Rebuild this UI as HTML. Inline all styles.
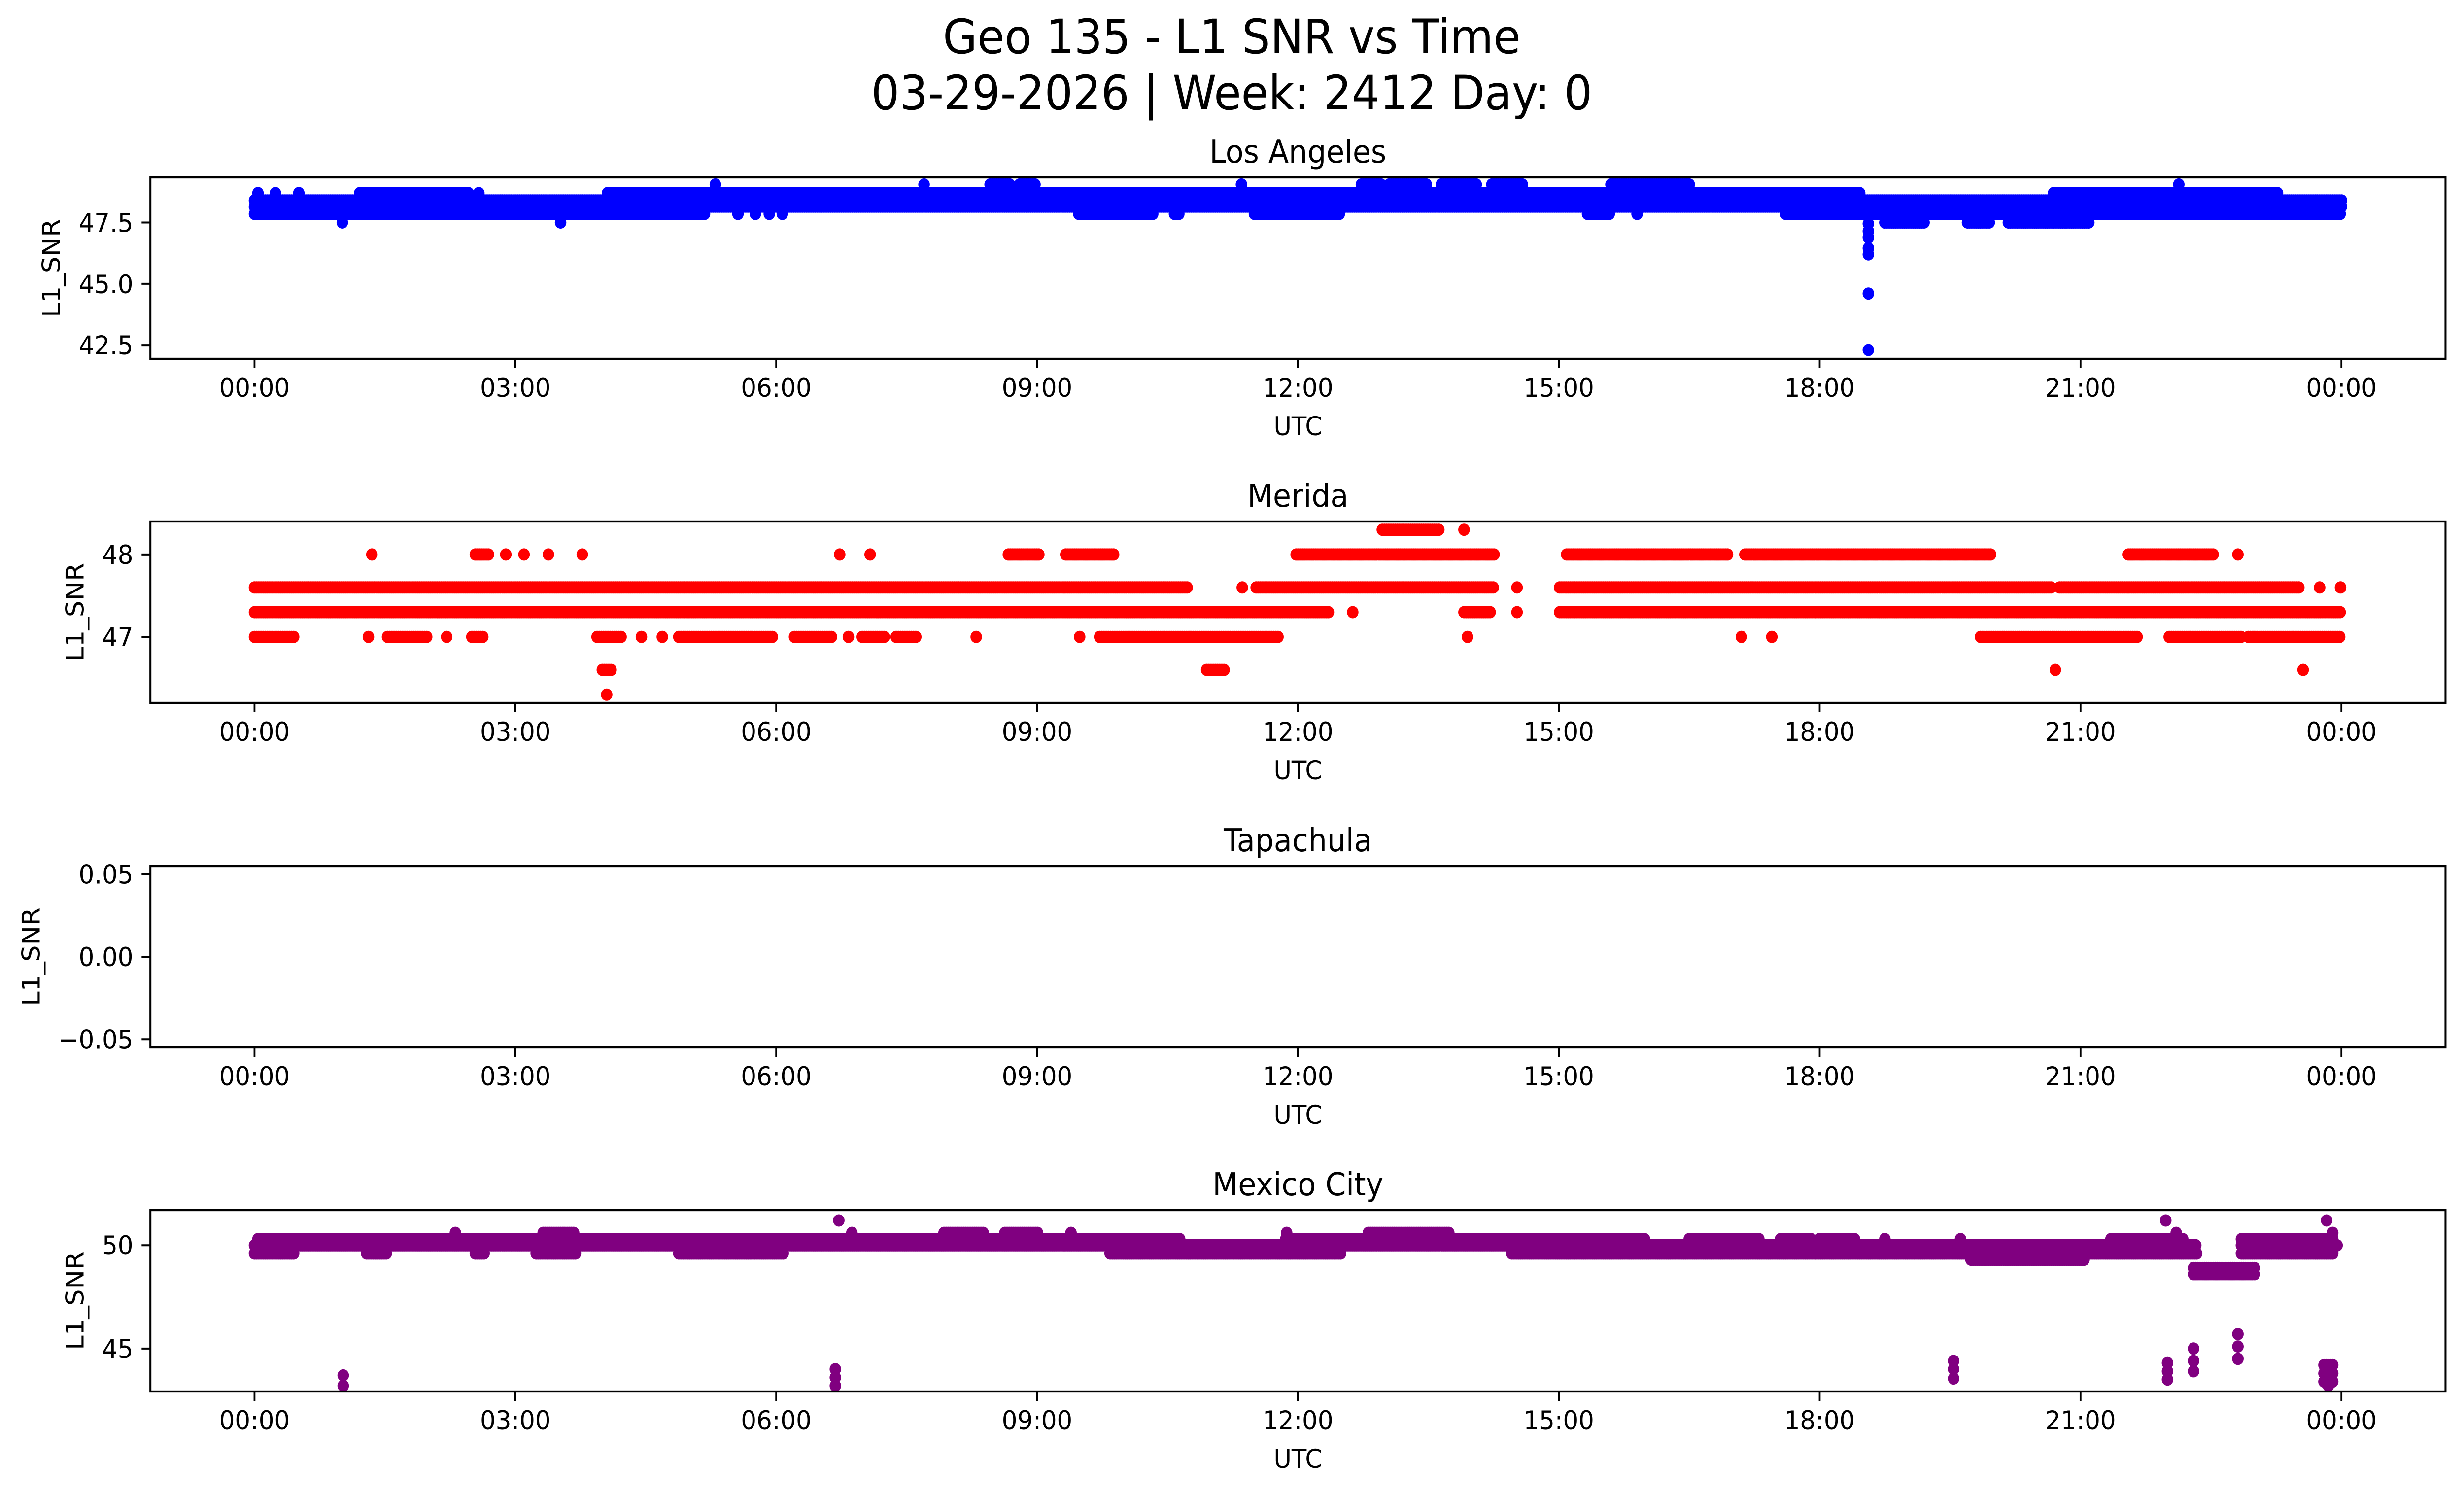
<!DOCTYPE html>
<html><head><meta charset="utf-8"><title>Geo 135 - L1 SNR vs Time</title>
<style>
html,body{margin:0;padding:0;background:#fff;width:100vw;height:100vh;overflow:hidden;}
svg{display:block;width:100vw;height:100vh;font-family:"DejaVu Sans","Liberation Sans",sans-serif;}
</style></head>
<body>
<svg id="fig" viewBox="0 0 5325 3033" preserveAspectRatio="none" xmlns="http://www.w3.org/2000/svg">
<rect x="0" y="0" width="5325" height="3033" fill="#fff"/>
<text x="2662" y="108" font-size="96" text-anchor="middle">Geo 135 - L1 SNR vs Time</text>
<text x="2662" y="222" font-size="96" text-anchor="middle">03-29-2026 | Week: 2412 Day: 0</text>
</svg>
<script>
// ---- shared x axis data ----
const xTickHours = [0, 3, 6, 9, 12, 15, 18, 21, 24];
const xTickLabels = ['00:00','03:00','06:00','09:00','12:00','15:00','18:00','21:00','00:00'];

// ---- Los Angeles: runs [value, startHour, endHour] ----
const laRuns = [
  [48.7,0.04,0.04],[48.7,0.24,0.24],[48.7,0.51,0.51],[48.7,1.21,2.46],[48.7,2.58,2.58],[48.7,4.06,18.48],[48.7,20.69,23.28],
  [48.4,0,24],
  [48.15,0,24],
  [47.85,0,5.19],[47.85,5.56,5.56],[47.85,5.76,5.76],[47.85,5.92,5.92],[47.85,6.07,6.07],[47.85,9.48,10.34],[47.85,10.58,10.65],
  [47.85,11.5,12.49],[47.85,15.33,15.6],[47.85,15.9,15.9],[47.85,17.61,24],
  [47.5,1.01,1.01],[47.5,3.52,3.52],[47.5,18.75,19.2],[47.5,19.7,19.97],[47.5,20.17,21.1],
  [49.05,5.30,5.30],[49.05,7.70,7.70],[49.05,8.46,8.70],[49.05,8.80,8.98],[49.05,11.35,11.35],[49.05,12.73,12.96],
  [49.05,13.05,13.48],[49.05,13.65,14.07],[49.05,14.23,14.58],[49.05,15.6,16.5],[49.05,22.13,22.13],
  [47.45,18.56,18.56],[47.15,18.56,18.56],[46.9,18.56,18.56],[46.45,18.56,18.56],[46.2,18.56,18.56],[44.6,18.56,18.56],[42.3,18.56,18.56]
];
const laYTicks = [42.5, 45.0, 47.5];
const laYLabels = ['42.5','45.0','47.5'];

// ---- Merida ----
const meRuns = [
  [48.3,12.97,13.63],[48.3,13.91,13.91],
  [48.0,1.35,1.35],[48.0,2.54,2.70],[48.0,2.89,2.89],[48.0,3.10,3.10],[48.0,3.38,3.38],[48.0,3.77,3.77],[48.0,6.73,6.73],[48.0,7.08,7.08],
  [48.0,8.67,9.02],[48.0,9.33,9.88],[48.0,11.98,14.26],[48.0,15.09,16.94],[48.0,17.14,19.97],[48.0,21.55,22.53],[48.0,22.81,22.81],
  [47.6,0,10.74],[47.6,11.36,11.36],[47.6,11.52,14.26],[47.6,14.52,14.52],[47.6,15.01,20.68],[47.6,20.76,23.52],[47.6,23.75,23.75],[47.6,23.99,23.99],
  [47.3,0,12.37],[47.3,12.63,12.63],[47.3,13.91,14.21],[47.3,14.52,14.52],[47.3,15.01,24.0],
  [47.0,0,0.47],[47.0,1.31,1.31],[47.0,1.53,1.99],[47.0,2.21,2.21],[47.0,2.50,2.63],[47.0,3.94,4.22],[47.0,4.45,4.45],[47.0,4.69,4.69],
  [47.0,4.88,5.97],[47.0,6.21,6.64],[47.0,6.83,6.83],[47.0,6.99,7.26],[47.0,7.38,7.61],[47.0,8.30,8.30],[47.0,9.49,9.49],[47.0,9.72,11.79],
  [47.0,13.95,13.95],[47.0,17.10,17.10],[47.0,17.45,17.45],[47.0,19.85,21.67],[47.0,22.02,22.85],[47.0,22.93,24.0],
  [46.6,4.0,4.1],[46.6,10.95,11.15],[46.6,20.71,20.71],[46.6,23.56,23.56],
  [46.3,4.05,4.05]
];
const meYTicks = [47, 48];
const meYLabels = ['47','48'];

// ---- Tapachula (no data) ----
const taRuns = [];
const taYTicks = [-0.05, 0.0, 0.05];
const taYLabels = ['\u22120.05','0.00','0.05'];

// ---- Mexico City ----
const mxRuns = [
  [51.2,6.72,6.72],[51.2,21.98,21.98],[51.2,23.83,23.83],
  [50.6,2.31,2.31],[50.6,3.32,3.67],[50.6,6.87,6.87],[50.6,7.93,8.40],[50.6,8.63,9.02],[50.6,9.39,9.39],[50.6,11.87,11.87],
  [50.6,12.81,13.75],[50.6,22.1,22.1],[50.6,23.9,23.9],
  [50.3,0.04,10.66],[50.3,11.86,16.0],[50.3,16.5,17.3],[50.3,17.55,17.9],[50.3,18.0,18.4],[50.3,18.75,18.75],[50.3,19.62,19.62],
  [50.3,21.35,22.18],[50.3,22.85,23.91],
  [50.0,0,22.34],[50.0,22.85,23.95],
  [49.6,0,0.47],[49.6,1.29,1.52],[49.6,2.54,2.66],[49.6,3.24,3.71],[49.6,4.88,6.09],[49.6,9.84,12.49],[49.6,14.46,22.34],[49.6,22.85,23.91],
  [49.3,19.74,21.04],
  [48.9,22.3,23.0],[48.6,22.3,23.0],
  [43.7,1.02,1.02],[43.2,1.02,1.02],
  [44.0,6.68,6.68],[43.6,6.68,6.68],[43.2,6.68,6.68],
  [44.4,19.54,19.54],[44.0,19.54,19.54],[43.55,19.54,19.54],
  [44.3,22.0,22.0],[43.9,22.0,22.0],[43.5,22.0,22.0],
  [45.0,22.3,22.3],[44.4,22.3,22.3],[43.9,22.3,22.3],
  [45.7,22.81,22.81],[45.1,22.81,22.81],[44.5,22.81,22.81],
  [44.2,23.8,23.9],[43.8,23.8,23.9],[43.4,23.8,23.9],[43.2,23.85,23.85]
];
const mxYTicks = [45, 50];
const mxYLabels = ['45','50'];

const panelTitles = ['Los Angeles','Merida','Tapachula','Mexico City'];

// ---- layout ----
const NS = 'http://www.w3.org/2000/svg';
const svg = document.getElementById('fig');
const AX_L = 325, AX_R = 5285, AX_H = 368;
const PANEL_TOPS = [360, 1058, 1757, 2455];
const X0 = 550, X24 = 5060;
function xScale(h){ return X0 + (X24 - X0) * h / 24; }
function mk(tag, attrs){ const e = document.createElementNS(NS, tag); for (const k in attrs) e.setAttribute(k, attrs[k]); return e; }

const panels = [
  {key:'los-angeles', runs:laRuns, color:'#0000ff', yMin:41.94, yMax:49.34, yTicks:laYTicks, yLabels:laYLabels, ylabX:112},
  {key:'merida', runs:meRuns, color:'#ff0000', yMin:46.2, yMax:48.4, yTicks:meYTicks, yLabels:meYLabels, ylabX:163},
  {key:'tapachula', runs:taRuns, color:'#0000ff', yMin:-0.055, yMax:0.055, yTicks:taYTicks, yLabels:taYLabels, ylabX:68},
  {key:'mexico-city', runs:mxRuns, color:'#800080', yMin:42.92, yMax:51.7, yTicks:mxYTicks, yLabels:mxYLabels, ylabX:163}
];

panels.forEach(function(p, i){
  const top = PANEL_TOPS[i], bot = top + AX_H;
  const yScale = function(v){ return top + (p.yMax - v) / (p.yMax - p.yMin) * AX_H; };
  const g = mk('g', {});
  
  
  svg.appendChild(g);

  const title = mk('text', {x:(AX_L+AX_R)/2, y:top-30, 'font-size':64, 'text-anchor':'middle'});
  
  
  title.textContent = panelTitles[i];
  g.appendChild(title);

  const pts = mk('g', {fill:p.color});
  
  
  g.appendChild(pts);
  p.runs.forEach(function(r){
    const v = r[0], t0 = r[1], t1 = r[2];
    const cy = yScale(v);
    for (let t = t0; t <= t1 + 1e-9; t += 0.025) {
      const c = mk('circle', {cx:xScale(t).toFixed(1), cy:cy.toFixed(1), r:12.5});
      
      
      pts.appendChild(c);
    }
  });

  const frame = mk('rect', {x:AX_L, y:top, width:AX_R-AX_L, height:AX_H, fill:'none', stroke:'#000', 'stroke-width':4.3});
  
  
  g.appendChild(frame);

  xTickHours.forEach(function(h, j){
    const x = xScale(h);
    const tk = mk('line', {x1:x, x2:x, y1:bot, y2:bot+19, stroke:'#000', 'stroke-width':4});
    
    
    g.appendChild(tk);
    const tl = mk('text', {x:x, y:bot+77, 'font-size':53, 'text-anchor':'middle'});
    
    
    tl.textContent = xTickLabels[j];
    g.appendChild(tl);
  });
  const xl = mk('text', {x:(AX_L+AX_R)/2, y:bot+155, 'font-size':53, 'text-anchor':'middle'});
  
  
  xl.textContent = 'UTC';
  g.appendChild(xl);

  p.yTicks.forEach(function(v, j){
    const y = yScale(v);
    const tk = mk('line', {x1:AX_L-19, x2:AX_L, y1:y, y2:y, stroke:'#000', 'stroke-width':4});
    
    
    g.appendChild(tk);
    const tl = mk('text', {x:AX_L-37, y:y+19, 'font-size':53, 'text-anchor':'end'});
    
    
    tl.textContent = p.yLabels[j];
    g.appendChild(tl);
  });
  const cy = top + AX_H/2;
  const yl = mk('text', {x:p.ylabX, y:cy, 'font-size':53, 'text-anchor':'middle', 'dominant-baseline':'central', transform:'rotate(-90 '+p.ylabX+' '+cy+')'});
  
  
  yl.textContent = 'L1_SNR';
  g.appendChild(yl);
});
</script>
</body></html>
